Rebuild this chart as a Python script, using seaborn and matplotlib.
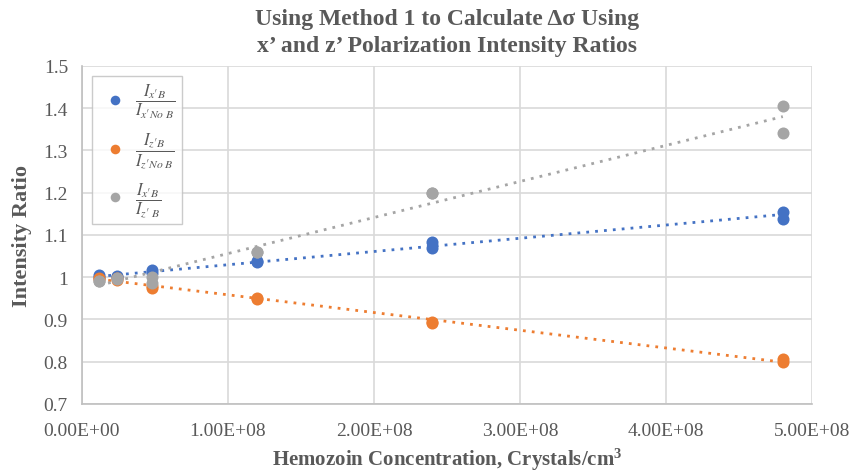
import numpy as np
import pandas as pd
import matplotlib
matplotlib.use("Agg")
import matplotlib.pyplot as plt
import seaborn as sns

# ---- data ----
concentration = [1.2e7, 1.2e7, 2.4e7, 2.4e7, 4.8e7, 4.8e7,
                 1.2e8, 1.2e8, 2.4e8, 2.4e8, 4.8e8, 4.8e8]
ratio_x = [1.005, 1.000, 1.000, 1.002, 1.018, 1.010,
           1.038, 1.036, 1.083, 1.070, 1.155, 1.138]
ratio_z = [0.998, 0.995, 0.997, 0.993, 0.975, 0.980,
           0.951, 0.948, 0.893, 0.892, 0.806, 0.799]
ratio_xz = [0.992, 0.990, 0.995, 0.997, 0.985, 1.000,
            1.060, 1.060, 1.200, 1.198, 1.405, 1.340]

labels = [r"$\dfrac{I_{x\prime B}}{I_{x\prime No\ B}}$",
          r"$\dfrac{I_{z\prime B}}{I_{z\prime No\ B}}$",
          r"$\dfrac{I_{x\prime B}}{I_{z\prime\ B}}$"]
colors = ["#4472C4", "#ED7D31", "#A5A5A5"]
x_ticks = [0, 1e8, 2e8, 3e8, 4e8, 5e8]
x_tick_labels = ["0.00E+00", "1.00E+08", "2.00E+08", "3.00E+08", "4.00E+08", "5.00E+08"]
y_ticks = [0.7, 0.8, 0.9, 1.0, 1.1, 1.2, 1.3, 1.4, 1.5]
y_tick_labels = ["0.7", "0.8", "0.9", "1", "1.1", "1.2", "1.3", "1.4", "1.5"]

sns.set_theme(style="white")
plt.rcParams["font.family"] = ["Liberation Serif", "DejaVu Serif"]
plt.rcParams["mathtext.fontset"] = "stix"

fig = plt.figure(figsize=(8.53, 4.77), dpi=100)
ax = fig.add_axes([0.096, 0.151, 0.856, 0.709])

series = [ratio_x, ratio_z, ratio_xz]
for vals, lab, col in zip(series, labels, colors):
    df = pd.DataFrame({"c": concentration, "r": vals})
    sns.regplot(data=df, x="c", y="r", ax=ax, ci=None, scatter=False,
                truncate=True,
                line_kws=dict(color=col, linestyle=(0, (1, 2.2)), linewidth=2.0))
    sns.scatterplot(data=df, x="c", y="r", ax=ax, color=col, s=75,
                    edgecolor=col, linewidth=0, label=lab, zorder=3)

ax.set_xlim(0, 5e8)
ax.set_ylim(0.7, 1.5)
ax.set_xticks(x_ticks)
ax.set_xticklabels(x_tick_labels)
ax.set_yticks(y_ticks)
ax.set_yticklabels(y_tick_labels)
ax.grid(True, color="#d9d9d9", linewidth=1.2)
ax.set_axisbelow(True)
for s in ["top", "right"]:
    ax.spines[s].set_visible(False)
for s in ["left", "bottom"]:
    ax.spines[s].set_color("#bfbfbf")
    ax.spines[s].set_linewidth(1.2)
ax.tick_params(axis="both", colors="#595959", labelsize=14, length=0)
ax.tick_params(axis="x", pad=13)
ax.tick_params(axis="y", pad=10)

ax.set_xlabel("Hemozoin Concentration, Crystals/cm$^{\\mathregular{3}}$",
              fontsize=15, fontweight="bold", color="#595959", labelpad=5)
ax.set_ylabel("Intensity Ratio", fontsize=16, fontweight="bold",
              color="#595959", labelpad=8)
ax.set_title("Using Method 1 to Calculate \u0394\u03c3 Using\nx\u2019 and z\u2019 Polarization Intensity Ratios",
             fontsize=17, fontweight="bold", color="#595959", pad=11, linespacing=1.35)

leg = ax.legend(loc="upper left", bbox_to_anchor=(0.002, 0.995), fontsize=12,
                frameon=True, fancybox=False, edgecolor="#bfbfbf",
                handletextpad=0.2, labelspacing=0.6, borderpad=0.4,
                markerscale=0.8)
leg.get_frame().set_linewidth(1.0)
for t in leg.get_texts():
    t.set_color("#595959")

fig.savefig("out.png", dpi=100)
